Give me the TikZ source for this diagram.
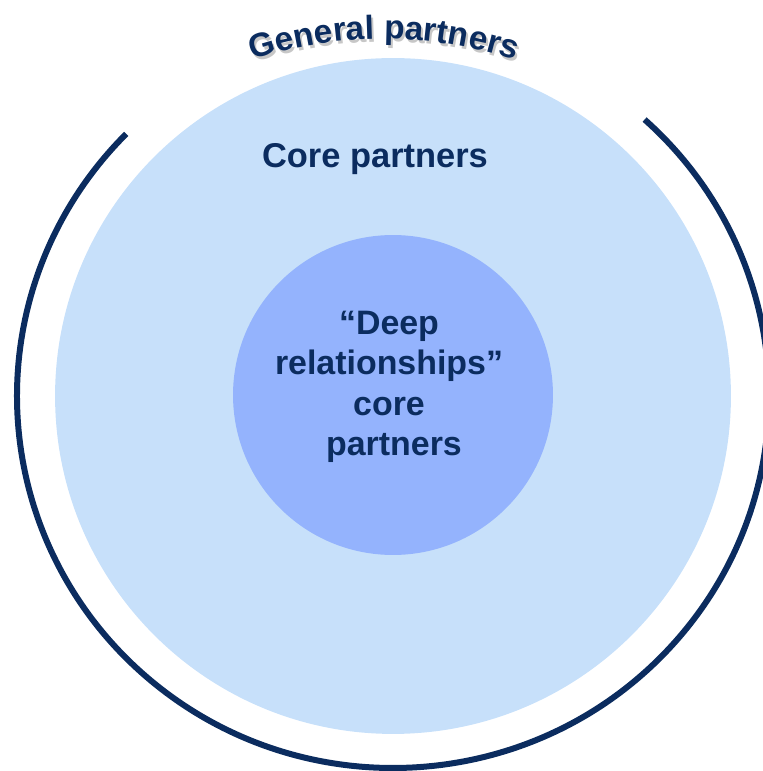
\documentclass[tikz,border=0pt]{standalone}
\usepackage{fontspec}
\setmainfont{Liberation Sans}
\usetikzlibrary{decorations.text}
\definecolor{navy}{HTML}{0B2C5F}
\definecolor{corefill}{HTML}{C7E0FA}
\definecolor{deepfill}{HTML}{94B3FD}
\newcommand{\gpfont}{\fontsize{19}{23}\selectfont\bfseries}

\begin{document}
\begin{tikzpicture}[x=0.02cm, y=0.02cm,
    ring/.style={circle, inner sep=0pt},
    label/.style={text=navy, font=\fontsize{19.3}{23}\selectfont\bfseries, align=center}]
    \useasboundingbox (0,0) rectangle (763,771);
    % circles
    \node[ring, fill=corefill, minimum size=13.52cm] (core) at (393,375) {};
    \node[ring, fill=deepfill, minimum size=6.4cm] (deep) at (393,376) {};
    % open ring of the general partners
    \draw[navy, line width=0.12cm] (core.center) ++(48:376 and 372)
        arc[start angle=48, end angle=-224.8, x radius=376, y radius=372];
    % curved title, shadow first
    \path[decorate, decoration={text along path, text align=center,
        text color=black!22, text={|\gpfont|General partners}}]
        (386,309) ++(125:420) arc[start angle=125, end angle=55, radius=420];
    \path[decorate, decoration={text along path, text align=center,
        text color=navy, text={|\gpfont|General partners}}]
        (384,312) ++(125:420) arc[start angle=125, end angle=55, radius=420];
    % labels
    \node[label, font=\fontsize{19.6}{23}\selectfont\bfseries, anchor=base] (corelabel) at (375,603) {Core partners};
    \node[label] (deeplabel) at (389,384) {“Deep\\relationships”\\core\\\hspace*{0.2cm}partners};
\end{tikzpicture}
\end{document}
